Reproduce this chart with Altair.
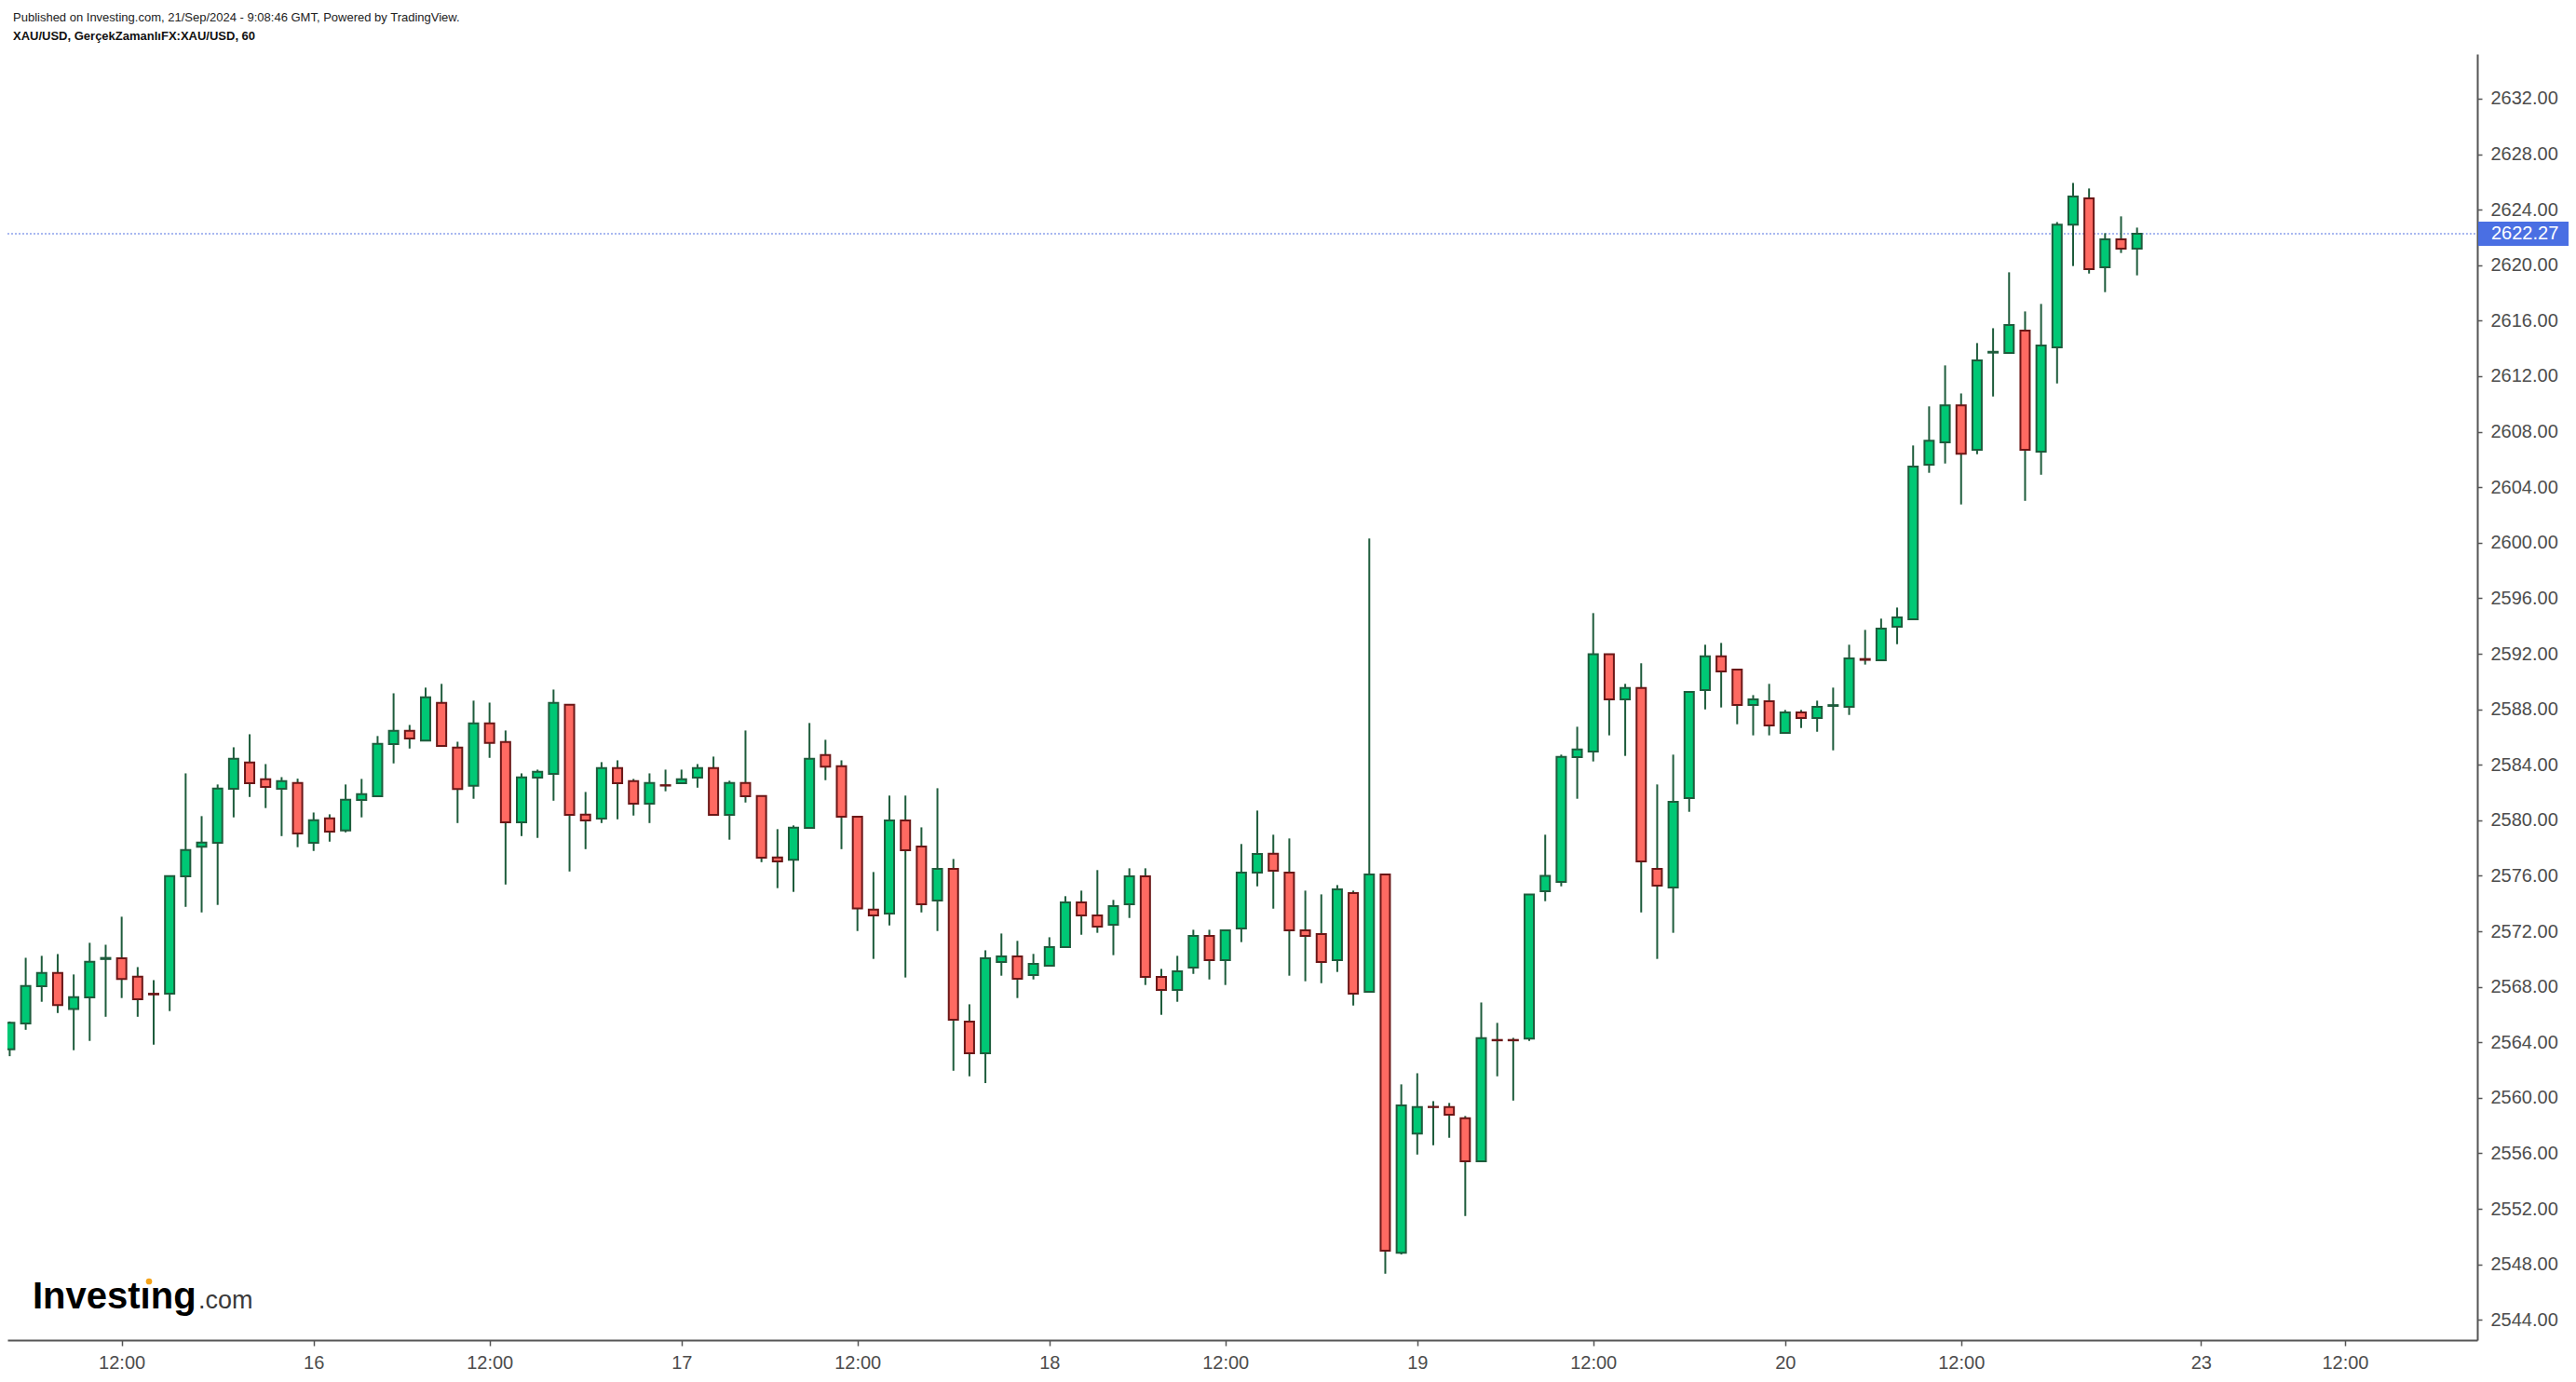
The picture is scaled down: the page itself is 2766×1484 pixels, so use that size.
import altair as alt
import pandas as pd

# ---- data (hourly XAU/USD candles) ----
opens = [2563.5, 2565.35, 2568.04, 2569.0, 2566.4, 2567.23, 2570.0, 2570.05, 2568.73, 2567.5,
         2567.5, 2575.96, 2578.1, 2578.37, 2582.27, 2584.17, 2582.96, 2582.27, 2582.69, 2578.37,
         2580.14, 2579.27, 2581.46, 2581.73, 2585.49, 2586.45, 2585.75, 2588.46, 2585.24, 2582.49,
         2586.98, 2585.64, 2579.85, 2583.07, 2583.34, 2588.33, 2580.41, 2580.12, 2583.76, 2582.82,
         2581.19, 2582.53, 2582.67, 2583.07, 2583.76, 2580.39, 2582.69, 2581.75, 2577.32, 2577.16,
         2579.45, 2584.7, 2583.9, 2580.25, 2573.57, 2573.27, 2579.99, 2578.11, 2574.21, 2576.5,
         2565.49, 2563.21, 2569.78, 2570.19, 2568.85, 2569.52, 2570.86, 2574.08, 2573.14, 2572.47,
         2573.95, 2575.96, 2568.71, 2567.77, 2569.38, 2571.66, 2569.92, 2572.2, 2576.23, 2577.59,
         2576.23, 2572.07, 2571.8, 2569.92, 2574.75, 2567.64, 2576.09, 2548.84, 2557.43, 2559.35,
         2559.33, 2558.53, 2555.42, 2564.17, 2564.17, 2564.26, 2574.89, 2575.56, 2584.55, 2584.95,
         2591.96, 2588.71, 2589.54, 2576.5, 2575.15, 2581.6, 2589.38, 2591.82, 2590.86, 2588.31,
         2588.58, 2586.29, 2587.77, 2587.37, 2588.24, 2588.17, 2591.62, 2591.53, 2593.95, 2594.48,
         2605.62, 2607.23, 2609.91, 2606.69, 2613.7, 2613.67, 2615.28, 2606.56, 2614.08, 2622.93,
         2624.81, 2619.85, 2621.86, 2621.19]
highs = [2565.5, 2570.09, 2570.23, 2570.36, 2568.89, 2571.17, 2571.03, 2573.05, 2569.42, 2568.48,
         2576.0, 2583.38, 2580.3, 2582.58, 2585.26, 2586.2, 2584.05, 2583.11, 2583.0, 2580.56,
         2580.43, 2582.58, 2582.98, 2586.07, 2589.15, 2586.87, 2589.56, 2589.83, 2585.66, 2588.62,
         2588.48, 2586.47, 2583.38, 2583.65, 2589.42, 2588.33, 2582.04, 2584.19, 2584.32, 2582.98,
         2583.38, 2583.65, 2583.65, 2584.05, 2584.59, 2582.85, 2586.47, 2581.75, 2579.36, 2579.63,
         2587.01, 2585.8, 2584.32, 2580.25, 2576.27, 2581.78, 2581.78, 2579.49, 2582.31, 2577.21,
         2566.74, 2570.63, 2571.84, 2571.31, 2570.37, 2571.57, 2574.53, 2574.93, 2576.41, 2574.26,
         2576.54, 2576.54, 2569.29, 2570.23, 2572.11, 2572.11, 2572.07, 2578.29, 2580.7, 2578.96,
         2578.69, 2574.93, 2574.66, 2575.33, 2574.93, 2600.3, 2576.09, 2560.97, 2561.77, 2559.76,
         2559.63, 2558.69, 2566.87, 2565.4, 2564.32, 2574.66, 2578.96, 2584.73, 2586.74, 2594.93,
         2591.96, 2589.83, 2591.31, 2582.58, 2584.73, 2589.25, 2592.65, 2592.78, 2590.86, 2589.02,
         2589.83, 2587.95, 2587.95, 2588.62, 2589.56, 2592.65, 2593.72, 2594.53, 2595.33, 2607.01,
         2609.83, 2612.78, 2610.76, 2614.39, 2615.46, 2619.49, 2616.67, 2617.21, 2623.11, 2625.93,
         2625.53, 2622.31, 2623.52, 2622.71]
lows = [2563.0, 2564.9, 2566.92, 2566.11, 2563.43, 2564.1, 2565.84, 2567.19, 2565.84, 2563.83,
        2566.25, 2573.76, 2573.36, 2573.9, 2580.21, 2581.68, 2580.88, 2578.86, 2578.06, 2577.79,
        2578.46, 2579.13, 2580.21, 2581.73, 2584.1, 2585.17, 2585.75, 2585.35, 2579.8, 2581.55,
        2584.5, 2575.37, 2578.86, 2578.73, 2581.41, 2576.31, 2577.92, 2579.8, 2580.07, 2580.34,
        2579.8, 2582.09, 2582.67, 2582.35, 2580.39, 2578.6, 2581.28, 2576.98, 2575.11, 2574.84,
        2579.45, 2582.89, 2577.92, 2572.02, 2570.01, 2572.42, 2568.67, 2573.36, 2572.02, 2561.95,
        2561.55, 2561.06, 2568.8, 2567.19, 2568.53, 2569.52, 2570.86, 2571.75, 2571.89, 2570.28,
        2572.96, 2568.13, 2565.98, 2566.92, 2568.93, 2568.53, 2568.13, 2571.22, 2575.24, 2573.63,
        2568.8, 2568.4, 2568.26, 2569.07, 2566.65, 2567.64, 2547.32, 2548.71, 2555.91, 2556.58,
        2557.12, 2551.48, 2555.42, 2561.55, 2559.8, 2564.1, 2574.17, 2575.24, 2581.55, 2584.24,
        2586.12, 2584.64, 2573.36, 2570.01, 2571.89, 2580.61, 2587.99, 2588.13, 2586.92, 2586.12,
        2586.12, 2586.29, 2586.65, 2586.38, 2585.04, 2587.59, 2591.22, 2591.53, 2592.69, 2594.48,
        2605.04, 2605.71, 2602.76, 2606.38, 2610.54, 2613.67, 2603.02, 2604.9, 2611.48, 2619.94,
        2619.4, 2618.06, 2620.88, 2619.27]
closes = [2565.4, 2568.06, 2569.0, 2566.69, 2567.25, 2569.8, 2570.08, 2568.57, 2567.1, 2567.45,
          2575.98, 2577.86, 2578.39, 2582.29, 2584.43, 2582.67, 2582.4, 2582.82, 2579.04, 2580.0,
          2579.18, 2581.48, 2581.88, 2585.51, 2586.45, 2585.89, 2588.86, 2585.35, 2582.26, 2586.98,
          2585.58, 2579.85, 2583.09, 2583.49, 2588.46, 2580.39, 2579.98, 2583.76, 2582.67, 2581.19,
          2582.69, 2582.5, 2582.96, 2583.76, 2580.39, 2582.69, 2581.73, 2577.3, 2577.03, 2579.47,
          2584.43, 2583.87, 2580.25, 2573.65, 2573.14, 2579.99, 2577.84, 2573.95, 2576.5, 2565.62,
          2563.21, 2570.05, 2570.19, 2568.58, 2569.65, 2570.86, 2574.08, 2573.14, 2572.34, 2573.81,
          2575.96, 2568.71, 2567.77, 2569.11, 2571.66, 2569.92, 2572.07, 2576.23, 2577.57, 2576.36,
          2572.07, 2571.66, 2569.79, 2575.02, 2567.5, 2576.09, 2548.98, 2559.45, 2559.33, 2559.33,
          2558.78, 2555.42, 2564.3, 2564.14, 2564.14, 2574.66, 2576.0, 2584.57, 2585.11, 2591.96,
          2588.71, 2589.54, 2577.03, 2575.29, 2581.33, 2589.25, 2591.82, 2590.72, 2588.31, 2588.71,
          2586.83, 2587.77, 2587.37, 2588.17, 2588.3, 2591.66, 2591.56, 2593.81, 2594.62, 2605.49,
          2607.36, 2609.91, 2606.42, 2613.14, 2613.76, 2615.69, 2606.69, 2614.21, 2622.93, 2624.95,
          2619.71, 2621.86, 2621.19, 2622.26]

tick_idx = [7, 19, 30, 42, 53, 65, 76, 88, 99, 111, 122, 137, 146]
tick_txt = ["12:00", "16", "12:00", "17", "12:00", "18", "12:00", "19", "12:00", "20", "12:00", "23", "12:00"]
price_ticks = [2544 + 4 * k for k in range(23)]
last_price = 2622.27

header1 = "Published on Investing.com, 21/Sep/2024 - 9:08:46 GMT, Powered by TradingView."
header2 = "XAU/USD, GerçekZamanlıFX:XAU/USD, 60"

# ---- layout ----
W, H = 2652, 1381
PAD = {"left": 8, "top": 58, "right": 106, "bottom": 45}
FONT = "Liberation Sans"
AXC = "#555555"
LBC = "#4d4d4d"

df = pd.DataFrame({
    "i": list(range(len(opens))),
    "open": opens, "high": highs, "low": lows, "close": closes,
})
df["dir"] = ["up" if c >= o else "down" for o, c in zip(opens, closes)]

label_expr = " : ".join(f"datum.value == {v} ? '{t}'" for v, t in zip(tick_idx, tick_txt)) + " : ''"

xscale = alt.Scale(domain=[0.15, 153.98], nice=False, zero=False)
yscale = alt.Scale(domain=[2542.54, 2635.22], nice=False, zero=False)

xaxis = alt.Axis(values=tick_idx, labelExpr=label_expr, title=None, grid=False,
                 domainColor=AXC, domainWidth=2, tickColor=AXC, tickSize=6, tickWidth=1.5,
                 labelFont=FONT, labelFontSize=20, labelColor=LBC, labelPadding=8,
                 labelFlush=False, labelOverlap=False)
yaxis = alt.Axis(values=price_ticks, format=".2f", orient="right", title=None, grid=False,
                 domainColor=AXC, domainWidth=2, tickColor=AXC, tickSize=5, tickWidth=1.5,
                 labelFont=FONT, labelFontSize=20, labelColor=LBC, labelPadding=9,
                 labelOverlap=False, labelFlush=False)

base = alt.Chart(df)

wicks = base.mark_rule(strokeWidth=2, color="#1e5c3c", clip=True).encode(
    x=alt.X("i:Q", scale=xscale, axis=xaxis),
    y=alt.Y("low:Q", scale=yscale, axis=yaxis),
    y2="high:Q",
)

bodies = base.mark_bar(size=10, strokeWidth=2, clip=True).encode(
    x=alt.X("i:Q", scale=xscale),
    y=alt.Y("open:Q", scale=yscale),
    y2="close:Q",
    fill=alt.Fill("dir:N", scale=alt.Scale(domain=["up", "down"], range=["#00c875", "#ff6a62"]), legend=None),
    stroke=alt.Stroke("dir:N", scale=alt.Scale(domain=["up", "down"], range=["#1e5c3c", "#6b1717"]), legend=None),
)

ann = alt.Chart(pd.DataFrame({"price": [last_price], "label": [f"{last_price:.2f}"]}))

price_line = ann.mark_rule(color="#a9b8f0", strokeWidth=2, strokeDash=[2, 2]).encode(
    y=alt.Y("price:Q", scale=yscale), x=alt.value(0), x2=alt.value(W),
)
price_box = ann.mark_rule(color="#4a6fe3", strokeWidth=26).encode(
    y=alt.Y("price:Q", scale=yscale), x=alt.value(W + 1), x2=alt.value(W + 98),
)
price_txt = ann.mark_text(align="left", baseline="middle", color="white", font=FONT, fontSize=20).encode(
    y=alt.Y("price:Q", scale=yscale), x=alt.value(W + 15), text="label:N",
)

hdr1 = ann.mark_text(align="left", baseline="alphabetic", font=FONT,
                     fontSize=13, color="#222222").encode(
    x=alt.value(6), y=alt.value(-35), text=alt.value(header1))
hdr2 = ann.mark_text(align="left", baseline="alphabetic", font=FONT,
                     fontSize=13, fontWeight="bold", color="#111111").encode(
    x=alt.value(6), y=alt.value(-15), text=alt.value(header2))

logo1 = ann.mark_text(align="left", baseline="alphabetic", font=FONT, fontSize=40,
                      fontWeight="bold", color="#000000").encode(
    x=alt.value(27), y=alt.value(1347), text=alt.value("Investıng"))
logo2 = ann.mark_text(align="left", baseline="alphabetic", font=FONT, fontSize=27,
                      color="#3a3a3a").encode(
    x=alt.value(205), y=alt.value(1347), text=alt.value(".com"))
logo_dot = ann.mark_point(shape="circle", filled=True, size=45, color="#f5a31a", opacity=1).encode(
    x=alt.value(152), y=alt.value(1318))

chart = alt.layer(
    price_line, wicks, bodies, price_box, price_txt, hdr1, hdr2, logo1, logo2, logo_dot
).properties(
    width=W, height=H,
    autosize=alt.AutoSizeParams(type="none"),
    padding=PAD,
    background="white",
).configure_view(strokeWidth=0)

chart.save("out.html", embed_options={"renderer": "svg", "actions": False})
